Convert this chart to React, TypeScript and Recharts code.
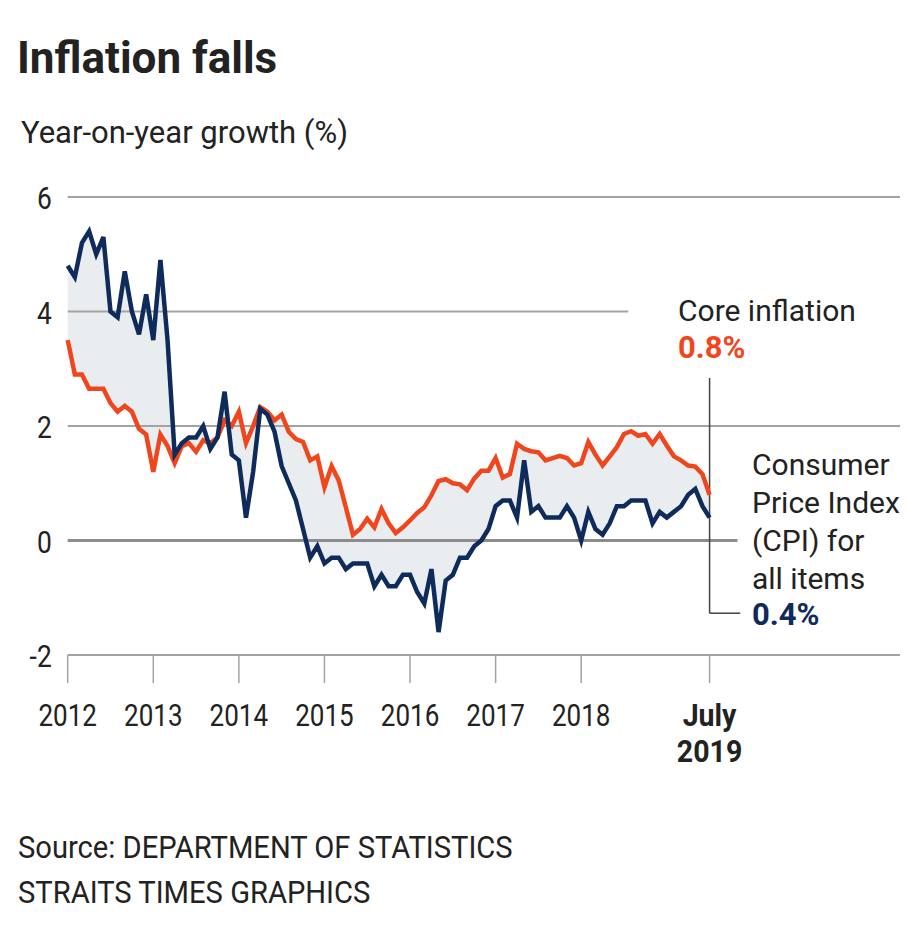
import { ComposedChart, Area, Line, XAxis, YAxis, ReferenceLine } from "recharts";

// Monthly, Jan 2012 - Jul 2019 (y/y %)
const cpi = [
  4.8, 4.6, 5.2, 5.4, 5.0, 5.3, 4.0, 3.9, 4.7, 4.0, 3.6, 4.3,
  3.5, 4.9, 3.5, 1.5, 1.7, 1.8, 1.8, 2.0, 1.6, 1.8, 2.6, 1.5,
  1.4, 0.4, 1.2, 2.3, 2.2, 1.9, 1.3, 1.0, 0.7, 0.2, -0.3, -0.1,
  -0.4, -0.3, -0.3, -0.5, -0.4, -0.4, -0.4, -0.8, -0.6, -0.8, -0.8, -0.6,
  -0.6, -0.9, -1.1, -0.5, -1.6, -0.7, -0.6, -0.3, -0.3, -0.1, 0.0, 0.2,
  0.6, 0.7, 0.7, 0.4, 1.4, 0.5, 0.6, 0.4, 0.4, 0.4, 0.6, 0.4,
  0.0, 0.5, 0.2, 0.1, 0.3, 0.6, 0.6, 0.7, 0.7, 0.7, 0.3, 0.5,
  0.4, 0.5, 0.6, 0.8, 0.9, 0.6, 0.4,
];

const core = [
  3.5, 2.9, 2.9, 2.65, 2.65, 2.65, 2.4, 2.25, 2.35, 2.25, 1.95, 1.85,
  1.2, 1.85, 1.65, 1.35, 1.65, 1.7, 1.55, 1.75, 1.7, 1.8, 2.1, 2.0,
  2.25, 1.7, 2.0, 2.33, 2.25, 2.1, 2.2, 1.9, 1.77, 1.72, 1.4, 1.47,
  0.93, 1.3, 1.05, 0.58, 0.1, 0.2, 0.38, 0.23, 0.55, 0.3, 0.13, 0.23,
  0.35, 0.48, 0.58, 0.79, 1.04, 1.07, 1.0, 0.98, 0.88, 1.08, 1.22, 1.22,
  1.44, 1.1, 1.16, 1.69, 1.6, 1.56, 1.54, 1.4, 1.44, 1.48, 1.44, 1.31,
  1.35, 1.72, 1.5, 1.31, 1.47, 1.63, 1.86, 1.91, 1.83, 1.86, 1.69, 1.86,
  1.66, 1.47, 1.4, 1.31, 1.29, 1.16, 0.8,
];

const xTicks = [0, 12, 24, 36, 48, 60, 72, 90];
const xTickLabels = ["2012", "2013", "2014", "2015", "2016", "2017", "2018", "July\n2019"];
const yTicks = [-2, 0, 2, 4, 6];

const data = cpi.map((v, i) => ({ m: i, cpi: v, core: core[i], band: [v, core[i]] }));

const X_MAX = 116.7;
const LAST = cpi.length - 1;
const NAVY = "#0e2b5c";
const ORANGE = "#f0461e";
const GRID = "#a3a3a3";
const TEXT = "#222";
const FONT = "Roboto, 'Noto Sans', sans-serif";

function XTick({ x, y, payload }: any) {
  const label = xTickLabels[xTicks.indexOf(payload.value)] ?? "";
  const lines = label.split("\n");
  const bold = lines.length > 1;
  return (
    <g transform={`translate(${x},${y})`}>
      {lines.map((t, k) => (
        <text
          key={k}
          x={0}
          y={0}
          dy={43 + k * 36}
          textAnchor="middle"
          fontFamily={FONT}
          fontSize={31}
          fontWeight={bold ? 700 : 400}
          fill={TEXT}
          transform={`scale(${bold ? 0.92 : 0.84},1)`}
        >
          {t}
        </text>
      ))}
    </g>
  );
}

function YTick({ x, y, payload }: any) {
  return (
    <g transform={`translate(${x},${y})`}>
      <text x={0} y={0} dy={12} textAnchor="end" fontFamily={FONT} fontSize={31} fill={TEXT} transform="scale(0.85,1)">
        {payload.value}
      </text>
    </g>
  );
}

const abs = (top: number, left: number, extra: React.CSSProperties = {}): React.CSSProperties => ({
  position: "absolute",
  top,
  left,
  fontFamily: FONT,
  color: TEXT,
  whiteSpace: "nowrap",
  margin: 0,
  ...extra,
});

export default function App() {
  return (
    <div style={{ position: "absolute", top: 0, left: 0, width: 920, height: 936, background: "#fff", overflow: "hidden" }}>
      <div style={abs(36, 17, { fontSize: 44, fontWeight: 700, lineHeight: "44px" })}>Inflation falls</div>
      <div style={abs(117, 21, { fontSize: 31, lineHeight: "31px" })}>Year-on-year growth (%)</div>

      <div style={{ position: "absolute", top: 0, left: 0 }}>
        <ComposedChart
          width={920}
          height={800}
          data={data}
          margin={{ top: 197, right: 20, bottom: 45, left: 7.7 }}
        >
          <XAxis
            dataKey="m"
            type="number"
            domain={[0, X_MAX]}
            ticks={xTicks}
            interval={0}
            axisLine={false}
            tickLine={{ stroke: GRID, strokeWidth: 1.5 }}
            tickSize={28}
            tickMargin={0}
            height={100}
            tick={<XTick />}
          />
          <YAxis
            type="number"
            domain={[-2, 6]}
            ticks={yTicks}
            axisLine={false}
            tickLine={false}
            tickSize={0}
            tickMargin={16}
            width={60}
            tick={<YTick />}
          />
          <Area
            dataKey="band"
            type="linear"
            fill="#e9edef"
            fillOpacity={1}
            stroke="none"
            isAnimationActive={false}
          />
          <ReferenceLine segment={[{ x: 0, y: 6 }, { x: X_MAX, y: 6 }]} stroke={GRID} strokeWidth={2} />
          <ReferenceLine segment={[{ x: 0, y: 4 }, { x: 78.6, y: 4 }]} stroke={GRID} strokeWidth={2} />
          <ReferenceLine segment={[{ x: 0, y: 2 }, { x: X_MAX, y: 2 }]} stroke={GRID} strokeWidth={2} />
          <ReferenceLine segment={[{ x: 0, y: -2 }, { x: X_MAX, y: -2 }]} stroke={GRID} strokeWidth={2} />
          <ReferenceLine segment={[{ x: 0, y: 0 }, { x: 93.9, y: 0 }]} stroke="#8c8c8c" strokeWidth={3} />
          <ReferenceLine segment={[{ x: LAST, y: 2.84 }, { x: LAST, y: -1.27 }]} stroke="#444" strokeWidth={1.5} />
          <ReferenceLine segment={[{ x: LAST, y: -1.27 }, { x: 94.3, y: -1.27 }]} stroke="#444" strokeWidth={1.5} />
          <Line dataKey="core" type="linear" stroke={ORANGE} strokeWidth={4.5} dot={false} isAnimationActive={false} />
          <Line dataKey="cpi" type="linear" stroke={NAVY} strokeWidth={4.5} dot={false} isAnimationActive={false} />
        </ComposedChart>
      </div>

      <div style={abs(296, 678, { fontSize: 30, lineHeight: "30px" })}>Core inflation</div>
      <div style={abs(333, 678, { fontSize: 31, lineHeight: "30px", fontWeight: 700, color: ORANGE })}>0.8%</div>
      <div style={abs(446, 752, { fontSize: 30, lineHeight: "38px" })}>
        Consumer
        <br />
        Price Index
        <br />
        (CPI) for
        <br />
        all items
      </div>
      <div style={abs(600, 752, { fontSize: 31, lineHeight: "30px", fontWeight: 700, color: NAVY })}>0.4%</div>

      <div style={abs(832, 18, { fontSize: 31, lineHeight: "31px", transform: "scaleX(0.94)", transformOrigin: "left top" })}>
        Source: DEPARTMENT OF STATISTICS
      </div>
      <div style={abs(877, 18, { fontSize: 31, lineHeight: "31px", transform: "scaleX(0.94)", transformOrigin: "left top" })}>
        STRAITS TIMES GRAPHICS
      </div>
    </div>
  );
}
